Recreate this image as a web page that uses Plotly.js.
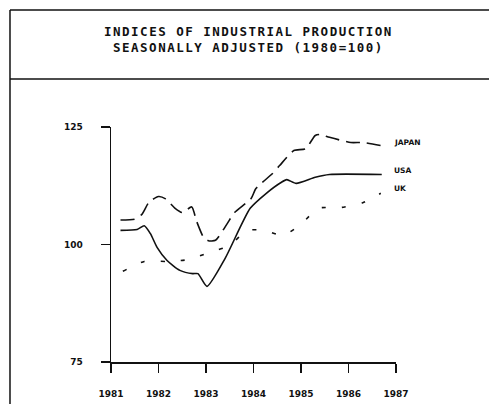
<!DOCTYPE html>
<html>
<head>
<meta charset="utf-8">
<script src="https://cdn.plot.ly/plotly-3.0.1.min.js"></script>
<style>
html,body{margin:0;padding:0;background:#fff;}
#chart{width:489px;height:404px;}
text.annotation-text[style*="Mono"]{letter-spacing:1.5px;}
</style>
</head>
<body>
<div id="chart"></div>
<script>
// Data (x in fractional years, y index 1980=100)
var japanX = [1981.2, 1981.5, 1981.65, 1981.8, 1982.0, 1982.15, 1982.35, 1982.5, 1982.7, 1982.8, 1982.95, 1983.05, 1983.2, 1983.45, 1983.6, 1983.95, 1984.05, 1984.4, 1984.55, 1984.85, 1985.1, 1985.3, 1985.4, 1985.6, 1986.05, 1986.3, 1986.7];
var japanY = [105.2, 105.4, 106.4, 109.0, 110.2, 109.7, 107.7, 106.8, 108.0, 105.0, 101.5, 100.8, 100.9, 104.5, 106.8, 109.8, 111.9, 115.1, 116.8, 120.0, 120.4, 123.2, 123.4, 122.8, 121.7, 121.7, 121.0];
var usaX = [1981.2, 1981.55, 1981.7, 1981.83, 1981.97, 1982.18, 1982.45, 1982.72, 1982.83, 1983.02, 1983.4, 1983.93, 1984.27, 1984.58, 1984.7, 1984.9, 1985.3, 1985.6, 1986.7];
var usaY = [103.0, 103.2, 104.0, 102.3, 99.4, 96.6, 94.5, 93.8, 93.8, 91.1, 97.0, 107.7, 110.9, 113.2, 113.8, 113.0, 114.3, 114.9, 114.9];
var ukX = [1981.25, 1981.7, 1982.18, 1982.64, 1983.06, 1983.5, 1983.86, 1984.24, 1984.62, 1985.02, 1985.36, 1985.86, 1986.3, 1986.68];
var ukY = [94.3, 96.4, 96.4, 96.8, 98.3, 99.8, 103.0, 103.0, 101.9, 104.5, 107.7, 107.9, 108.9, 110.9];
var yearTicks = [1981, 1982, 1983, 1984, 1985, 1986, 1987];
var yearLabels = ['1981', '1982', '1983', '1984', '1985', '1986', '1987'];
var valueTicks = [75, 100, 125];
var seriesNames = ['JAPAN', 'USA', 'UK'];
var titleLines = ['INDICES OF INDUSTRIAL PRODUCTION', 'SEASONALLY ADJUSTED (1980=100)'];

var ink = '#111';
var traces = [
  {x: japanX, y: japanY, mode: 'lines', line: {color: ink, width: 1.6, dash: '14px,7px', shape: 'spline', smoothing: 0.6}, hoverinfo: 'skip'},
  {x: usaX, y: usaY, mode: 'lines', line: {color: ink, width: 1.6, shape: 'spline', smoothing: 0.6}, hoverinfo: 'skip'},
  {x: ukX, y: ukY, mode: 'lines', line: {color: ink, width: 1.6, dash: '4px,16px', shape: 'spline', smoothing: 0.6}, hoverinfo: 'skip'}
];

var lab = {family: 'DejaVu Sans', size: 9, color: ink, weight: 'bold'};
var titleFont = {family: 'DejaVu Sans Mono', size: 12.5, color: ink, weight: 'bold'};
var seriesFont = {family: 'DejaVu Sans', size: 7.5, color: ink, weight: 'bold'};
var layout = {
  width: 489, height: 404,
  margin: {l: 111, r: 93, t: 127, b: 42},
  paper_bgcolor: '#fff', plot_bgcolor: '#fff',
  showlegend: false,
  xaxis: {range: [1981, 1987], tickvals: yearTicks, ticktext: yearLabels, showgrid: false, zeroline: false,
          showline: true, linecolor: ink, linewidth: 1.5, ticks: 'outside', ticklen: 9, tickwidth: 1.5, tickcolor: ink,
          tickfont: lab, ticklabelstandoff: 14},
  yaxis: {range: [75, 125], tickvals: valueTicks, showgrid: false, zeroline: false,
          showline: true, linecolor: ink, linewidth: 1.5, ticks: 'outside', ticklen: 9, tickwidth: 1.5, tickcolor: ink,
          tickfont: lab, ticklabelstandoff: 16},
  shapes: [
    {type: 'line', xref: 'paper', yref: 'paper', x0: -0.3544, x1: -0.3544, y0: 1.4979, y1: -0.2, line: {color: ink, width: 1.5}},
    {type: 'line', xref: 'paper', yref: 'paper', x0: -0.3544, x1: 1.35, y0: 1.4979, y1: 1.4979, line: {color: ink, width: 1.5}},
    {type: 'line', xref: 'paper', yref: 'paper', x0: -0.3544, x1: 1.35, y0: 1.2043, y1: 1.2043, line: {color: ink, width: 1.5}}
  ],
  annotations: [
    {xref: 'paper', yref: 'paper', x: 0.4825, y: 1.4043, text: titleLines[0], showarrow: false, xanchor: 'center', yanchor: 'middle', font: titleFont},
    {xref: 'paper', yref: 'paper', x: 0.4825, y: 1.3404, text: titleLines[1], showarrow: false, xanchor: 'center', yanchor: 'middle', font: titleFont},
    {x: 1986.92, y: japanY[japanY.length - 1] + 0.7, text: seriesNames[0], showarrow: false, xanchor: 'left', yanchor: 'middle', font: seriesFont},
    {x: 1986.92, y: usaY[usaY.length - 1] + 0.8, text: seriesNames[1], showarrow: false, xanchor: 'left', yanchor: 'middle', font: seriesFont},
    {x: 1986.92, y: ukY[ukY.length - 1] + 1.0, text: seriesNames[2], showarrow: false, xanchor: 'left', yanchor: 'middle', font: seriesFont}
  ]
};
Plotly.newPlot('chart', traces, layout, {staticPlot: true, displayModeBar: false});
</script>
</body>
</html>
